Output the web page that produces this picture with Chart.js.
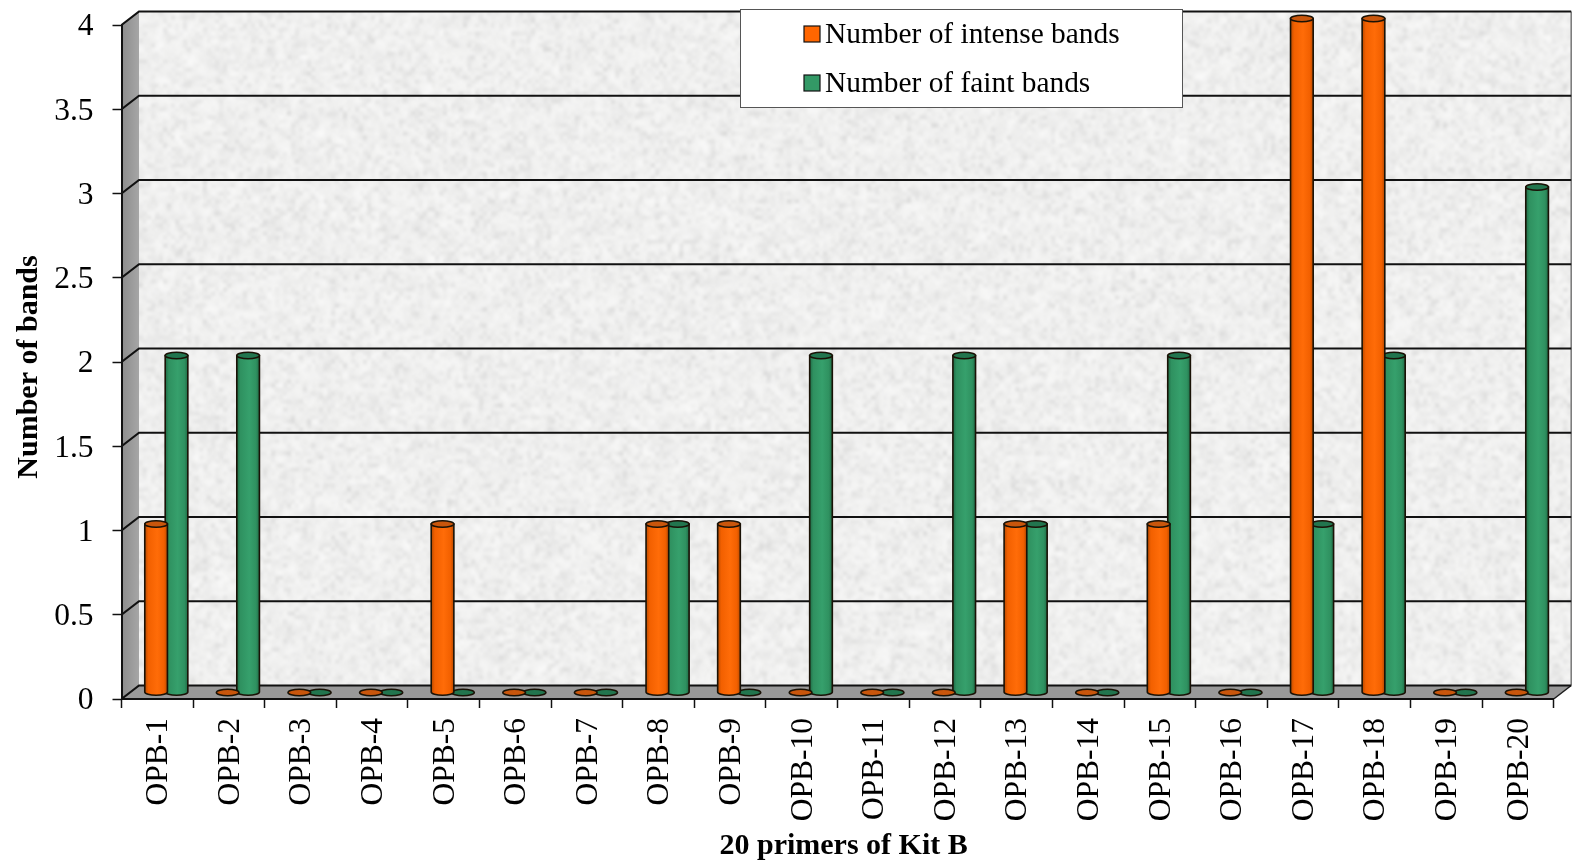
<!DOCTYPE html>
<html>
<head>
<meta charset="utf-8">
<title>Bands per primer</title>
<script src="https://cdn.jsdelivr.net/npm/chart.js@4/dist/chart.umd.min.js"></script>
<style>
html,body{margin:0;padding:0;background:#fff}
canvas{display:block}
</style>
</head>
<body>
<canvas id="chart" width="1574" height="867"></canvas>
<script>
// Categories and series
const primers = ["OPB-1","OPB-2","OPB-3","OPB-4","OPB-5","OPB-6","OPB-7","OPB-8","OPB-9","OPB-10",
                 "OPB-11","OPB-12","OPB-13","OPB-14","OPB-15","OPB-16","OPB-17","OPB-18","OPB-19","OPB-20"];
const intenseBands = [1,0,0,0,1,0,0,1,1,0,0,0,1,0,1,0,4,4,0,0];
const faintBands   = [2,2,0,0,0,0,0,1,0,2,0,2,1,0,2,0,1,2,0,3];
const SERIF = '"Liberation Serif","Times New Roman",serif';

// Depth of the box: how far the back wall sits from the front axes
const DEPTH_X = 17.5, DEPTH_Y = 13.5;
// Cylinders stand at mid depth
const BAR_DX = 9, BAR_DY = 6.5, CAP_RY = 3.3;

let seed = 20011;
const next = () => (seed = (seed * 48271) % 2147483647) / 2147483647;

// One layer of soft blotches: coarse noise pixels enlarged with smoothing
function blotchLayer(g, w, h, cell, gray, maxAlpha) {
  const cw = Math.ceil(w / cell) + 1, ch = Math.ceil(h / cell) + 1;
  const c = document.createElement('canvas');
  c.width = cw; c.height = ch;
  const cg = c.getContext('2d');
  const img = cg.createImageData(cw, ch);
  for (let i = 0; i < img.data.length; i += 4) {
    img.data[i] = img.data[i + 1] = img.data[i + 2] = gray;
    img.data[i + 3] = next() * next() * 255 * maxAlpha * 2;
  }
  cg.putImageData(img, 0, 0);
  g.imageSmoothingEnabled = true;
  g.imageSmoothingQuality = 'high';
  g.drawImage(c, 0, 0, cw * cell, ch * cell);
}

// Speckled stone fill for the back wall
function stoneTexture(w, h) {
  const c = document.createElement('canvas');
  c.width = w; c.height = h;
  const g = c.getContext('2d');
  g.fillStyle = '#f4f4f3';
  g.fillRect(0, 0, w, h);
  blotchLayer(g, w, h, 9, 205, 0.14);
  blotchLayer(g, w, h, 4, 190, 0.22);
  blotchLayer(g, w, h, 6, 255, 0.30);
  return c;
}

// Walls, floor and the gridlines that wrap around them
const boxPlugin = {
  id: 'box',
  beforeDraw(chart) {
    const { ctx, chartArea: a, scales: { y } } = chart;
    const backL = a.left + DEPTH_X, backR = a.right + DEPTH_X;
    const backT = a.top - DEPTH_Y, backB = a.bottom - DEPTH_Y;
    ctx.save();
    ctx.drawImage(stoneTexture(Math.round(backR - backL), Math.round(backB - backT)), backL, backT, backR - backL, backB - backT);

    // side wall
    const side = ctx.createLinearGradient(a.left, 0, backL, 0);
    side.addColorStop(0, '#8c8c8c');
    side.addColorStop(1, '#a6a6a6');
    ctx.fillStyle = side;
    ctx.beginPath();
    ctx.moveTo(a.left, a.top); ctx.lineTo(backL, backT); ctx.lineTo(backL, backB); ctx.lineTo(a.left, a.bottom);
    ctx.closePath(); ctx.fill();

    // floor
    ctx.fillStyle = '#999999';
    ctx.beginPath();
    ctx.moveTo(a.left, a.bottom); ctx.lineTo(a.right, a.bottom); ctx.lineTo(backR, backB); ctx.lineTo(backL, backB);
    ctx.closePath(); ctx.fill();

    // back wall edges
    ctx.strokeStyle = '#777777';
    ctx.lineWidth = 1.5;
    ctx.beginPath();
    ctx.moveTo(backR, backT); ctx.lineTo(backR, backB);
    ctx.stroke();
    ctx.strokeStyle = '#1c1c1c';
    ctx.beginPath();
    ctx.moveTo(a.right, a.bottom); ctx.lineTo(backR, backB);
    ctx.stroke();

    // gridlines
    ctx.strokeStyle = '#111111';
    ctx.lineWidth = 2.2;
    y.ticks.forEach(t => {
      const py = y.getPixelForValue(t.value);
      ctx.beginPath();
      ctx.moveTo(a.left, py);
      ctx.lineTo(backL, py - DEPTH_Y);
      ctx.lineTo(backR, py - DEPTH_Y);
      ctx.stroke();
    });
    ctx.restore();
  }
};

function shade(colors, left, right, ctx) {
  const g = ctx.createLinearGradient(left, 0, right, 0);
  g.addColorStop(0, colors.edge);
  g.addColorStop(0.16, colors.body);
  g.addColorStop(0.55, colors.light);
  g.addColorStop(0.85, colors.body);
  g.addColorStop(1, colors.edge);
  return g;
}

// Each bar is drawn as an upright cylinder from its element geometry
const cylinderPlugin = {
  id: 'cylinder',
  beforeDatasetDraw(chart, args) {
    const { ctx } = chart;
    const colors = chart.data.datasets[args.index].cylinder;
    ctx.save();
    ctx.lineWidth = 1.6;
    ctx.strokeStyle = '#1a1206';
    args.meta.data.forEach(el => {
      const { x, y, base, width } = el.getProps(['x', 'y', 'base', 'width'], true);
      const cx = x + BAR_DX, r = width / 2, top = y - BAR_DY, bottom = base - BAR_DY;
      if (bottom - top > 0.5) {
        ctx.fillStyle = shade(colors, cx - r, cx + r, ctx);
        ctx.beginPath();
        ctx.moveTo(cx - r, top);
        ctx.lineTo(cx - r, bottom);
        ctx.ellipse(cx, bottom, r, CAP_RY, 0, Math.PI, 0, true);
        ctx.lineTo(cx + r, top);
        ctx.closePath();
        ctx.fill();
        ctx.stroke();
      }
      ctx.fillStyle = colors.cap;
      ctx.beginPath();
      ctx.ellipse(cx, top, r, CAP_RY, 0, 0, Math.PI * 2);
      ctx.fill();
      ctx.stroke();
    });
    ctx.restore();
    return false;
  }
};

// Key: white box with a bordered swatch per series, drawn under the bars
const keyPlugin = {
  id: 'key',
  beforeDatasetsDraw(chart) {
    const { ctx } = chart;
    ctx.save();
    ctx.fillStyle = '#ffffff';
    ctx.fillRect(740, 9, 442, 98);
    ctx.strokeStyle = '#555555';
    ctx.lineWidth = 1;
    ctx.strokeRect(740.5, 9.5, 442, 98);
    ctx.font = '29.4px ' + SERIF;
    ctx.textBaseline = 'middle';
    ctx.textAlign = 'left';
    chart.data.datasets.forEach((d, i) => {
      const cy = 34 + i * 49;
      ctx.fillStyle = d.backgroundColor;
      ctx.strokeStyle = '#111111';
      ctx.lineWidth = 1.2;
      ctx.fillRect(804, cy - 8, 16, 16);
      ctx.strokeRect(804, cy - 8, 16, 16);
      ctx.fillStyle = '#000000';
      ctx.fillText(d.label, 825, cy + 1);
    });
    ctx.restore();
  }
};

// Small offsets for axis titles and tick labels
const nudgePlugin = {
  id: 'nudge',
  beforeDraw(chart) {
    const nudge = (scale, method, dx, dy) => {
      const flag = '$nudged_' + method;
      if (scale[flag]) return;
      scale[flag] = true;
      const original = scale[method];
      scale[method] = function (...args) {
        const ctx = this.ctx;
        ctx.save();
        ctx.translate(dx, dy);
        original.apply(this, args);
        ctx.restore();
      };
    };
    nudge(chart.scales.x, 'drawTitle', 6, 0);
    nudge(chart.scales.y, 'drawTitle', 0, 5);
    nudge(chart.scales.x, 'drawLabels', 1.5, 0);
    nudge(chart.scales.y, 'drawLabels', 0, 2);
  }
};

// Fixed plot rectangle: the axes do not reserve room for overhanging labels
function fixScaleBox(scale, size) {
  if (scale.isHorizontal()) scale.height = size; else scale.width = size;
  scale.paddingTop = scale.paddingBottom = scale.paddingLeft = scale.paddingRight = 0;
}

new Chart(document.getElementById('chart'), {
  type: 'bar',
  data: {
    labels: primers,
    datasets: [
      { label: 'Number of intense bands', data: intenseBands, backgroundColor: '#ff6600',
        cylinder: { body: '#f26000', light: '#ff6c08', edge: '#b84a00', cap: '#c9560c' } },
      { label: 'Number of faint bands', data: faintBands, backgroundColor: '#339966',
        cylinder: { body: '#2f9160', light: '#36a06c', edge: '#1f6a46', cap: '#22754e' } }
    ]
  },
  options: {
    responsive: false,
    animation: false,
    devicePixelRatio: 1,
    layout: { padding: { top: 25, right: 20.3, bottom: 0, left: 0 } },
    datasets: { bar: { categoryPercentage: 0.57, barPercentage: 1.11 } },
    plugins: { legend: { display: false }, tooltip: { enabled: false } },
    scales: {
      x: {
        afterFit(s) { fixScaleBox(s, 168); },
        grid: { drawOnChartArea: false, drawTicks: true, tickLength: 9, tickColor: '#111111', tickWidth: 1.5 },
        border: { color: '#111111', width: 2 },
        ticks: { color: '#000', font: { family: SERIF, size: 31.5 }, minRotation: 90, maxRotation: 90, autoSkip: false, padding: 10 },
        title: { display: true, text: '20 primers of Kit B', color: '#000',
                 font: { family: SERIF, size: 30, weight: 'bold' }, padding: { top: 3, bottom: 3 } }
      },
      y: {
        min: 0, max: 4,
        afterFit(s) { fixScaleBox(s, 121.5); },
        grid: { drawOnChartArea: false, drawTicks: true, tickLength: 9, tickColor: '#111111', tickWidth: 1.5 },
        border: { color: '#111111', width: 2 },
        ticks: { stepSize: 0.5, color: '#000', font: { family: SERIF, size: 31.5 }, padding: 19,
                 callback: v => String(v) },
        title: { display: true, text: 'Number of bands', color: '#000',
                 font: { family: SERIF, size: 30, weight: 'bold' }, padding: { top: 11, bottom: 11 } }
      }
    }
  },
  plugins: [nudgePlugin, boxPlugin, keyPlugin, cylinderPlugin]
});
</script>
</body>
</html>
